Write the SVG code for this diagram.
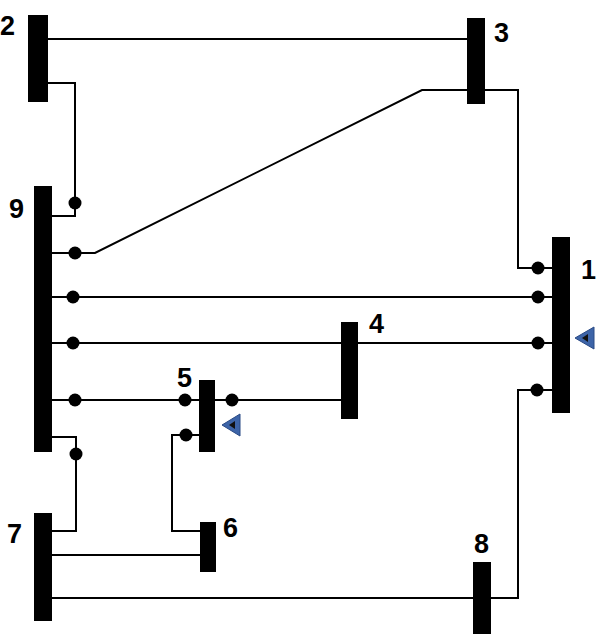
<svg xmlns="http://www.w3.org/2000/svg" width="604" height="634" viewBox="0 0 604 634">
<style>
.bus{fill:#000}
.w{fill:none;stroke:#000;stroke-width:2}
.d{fill:#000}
.lb{font-family:"Liberation Sans",Arial,sans-serif;font-weight:bold;font-size:27px;fill:#000}
.tri{fill:#3d64a8;stroke:#2a4a85;stroke-width:1}
.ti{fill:#111}
</style>
<rect width="604" height="634" fill="#fff"/>
<g id="connectors">
<polyline class="w" points="48,39 467,39"/>
<polyline class="w" points="48,83 75,83 75,216 52,216"/>
<polyline class="w" points="467,90 422,90 95,253 52,253"/>
<polyline class="w" points="485,90 518,90 518,268 552,268"/>
<polyline class="w" points="52,297 552,297"/>
<polyline class="w" points="52,343 552,343"/>
<polyline class="w" points="52,400 199,400"/>
<polyline class="w" points="215,400 341,400"/>
<polyline class="w" points="199,435 172,435 172,531 200,531"/>
<polyline class="w" points="52,437 76,437 76,531 52,531"/>
<polyline class="w" points="52,555 200,555"/>
<polyline class="w" points="52,598 473,598"/>
<polyline class="w" points="491,598 518,598 518,390 552,390"/>
<circle class="d" cx="75" cy="203" r="6.5"/>
<circle class="d" cx="75" cy="253" r="6.5"/>
<circle class="d" cx="73" cy="297" r="6.5"/>
<circle class="d" cx="73" cy="343" r="6.5"/>
<circle class="d" cx="75" cy="400" r="6.5"/>
<circle class="d" cx="76" cy="454" r="6.5"/>
<circle class="d" cx="185" cy="400" r="6.5"/>
<circle class="d" cx="232" cy="400" r="6.5"/>
<circle class="d" cx="186" cy="435" r="6.5"/>
<circle class="d" cx="538" cy="268" r="6.5"/>
<circle class="d" cx="538" cy="297" r="6.5"/>
<circle class="d" cx="538" cy="343" r="6.5"/>
<circle class="d" cx="537" cy="390" r="6.5"/>
</g>
<g id="bus1"><rect class="bus" x="552" y="237" width="18" height="176"/><text class="lb" x="581" y="279">1</text>
<polygon class="tri" points="575,338 594,327 594,349"/><polygon class="ti" points="582,338 588,334 588,342"/></g>
<g id="bus2"><rect class="bus" x="28" y="15" width="20" height="87"/><text class="lb" x="0" y="35">2</text></g>
<g id="bus3"><rect class="bus" x="467" y="18" width="18" height="86"/><text class="lb" x="494" y="42">3</text></g>
<g id="bus4"><rect class="bus" x="341" y="322" width="17" height="97"/><text class="lb" x="369" y="333">4</text></g>
<g id="bus5"><rect class="bus" x="199" y="380" width="16" height="72"/><text class="lb" x="177" y="387">5</text>
<polygon class="tri" points="222,425 240,414 240,436"/><polygon class="ti" points="229,425 235,421 235,429"/></g>
<g id="bus6"><rect class="bus" x="200" y="522" width="16" height="50"/><text class="lb" x="223" y="537">6</text></g>
<g id="bus7"><rect class="bus" x="34" y="513" width="18" height="108"/><text class="lb" x="7" y="543">7</text></g>
<g id="bus8"><rect class="bus" x="473" y="562" width="18" height="72"/><text class="lb" x="474" y="553">8</text></g>
<g id="bus9"><rect class="bus" x="34" y="186" width="18" height="266"/><text class="lb" x="9" y="218">9</text></g>
</svg>
